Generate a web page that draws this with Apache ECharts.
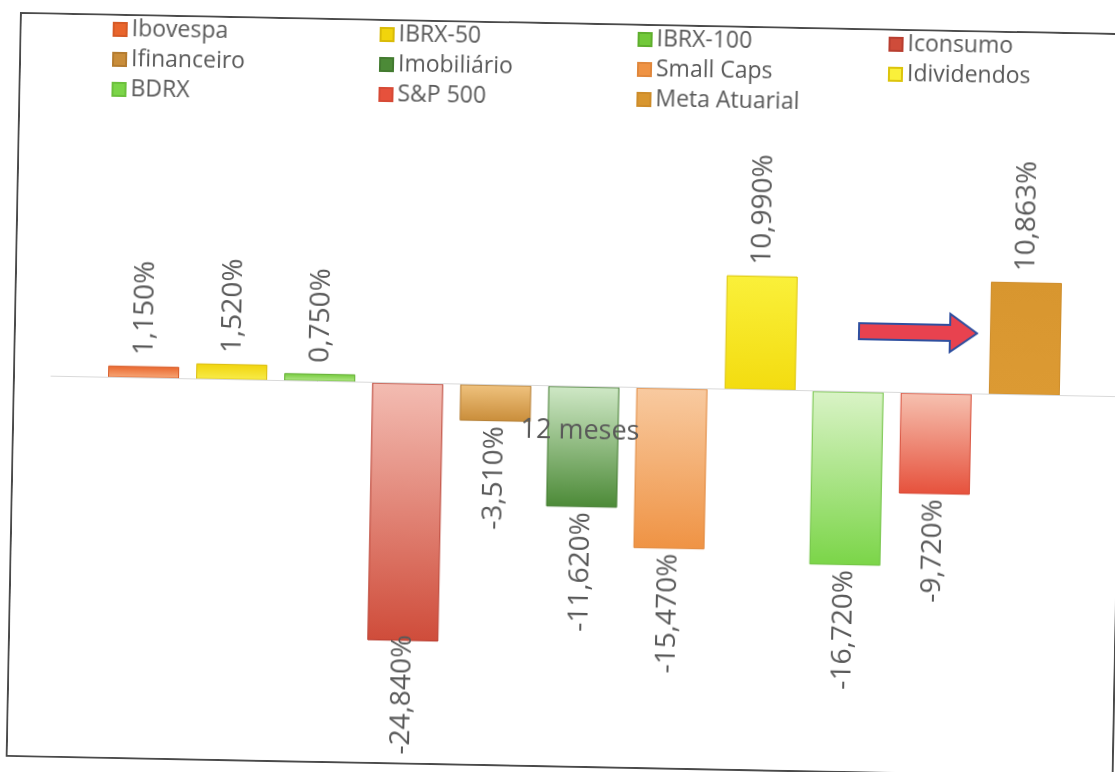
<!DOCTYPE html>
<html>
<head>
<meta charset="utf-8">
<script src="https://cdn.jsdelivr.net/npm/echarts@6/dist/echarts.min.js"></script>
<style>
  html, body { margin: 0; padding: 0; background: #ffffff; width: 1115px; height: 772px; overflow: hidden; }
  #frame {
    position: absolute; left: 20px; top: 12px;
    width: 1108px; height: 745px; box-sizing: border-box;
    border: 2px solid #4a4a4a;
    transform-origin: 0 0; transform: rotate(1.1deg);
    background: #ffffff;
  }
  #chart { width: 1104px; height: 741px; }
</style>
</head>
<body>
<div id="frame"><div id="chart"></div></div>
<script>
// 12-month returns per index (%)
const categories = ['12 meses'];
const seriesNames = ['Ibovespa', 'IBRX-50', 'IBRX-100', 'Iconsumo', 'Ifinanceiro', 'Imobiliário',
                     'Small Caps', 'Idividendos', 'BDRX', 'S&P 500', 'Meta Atuarial'];
const seriesValues = [1.150, 1.520, 0.750, -24.840, -3.510, -11.620, -15.470, 10.990, -16.720, -9.720, 10.863];

// legend columns (row-major order of the legend grid)
const legendColumns = [
  ['Ibovespa', 'Ifinanceiro', 'BDRX'],
  ['IBRX-50', 'Imobiliário', 'S&P 500'],
  ['IBRX-100', 'Small Caps', 'Meta Atuarial'],
  ['Iconsumo', 'Idividendos']
];

// fill colours: [near the axis, far end of bar, border]
const fills = {
  'Ibovespa':     ['#f7a979', '#e9652c', '#d65a26'],
  'IBRX-50':      ['#f8ec4a', '#f1d40c', '#d9bb08'],
  'IBRX-100':     ['#b6e98c', '#72c93a', '#5fae2e'],
  'Iconsumo':     ['#f3bcb2', '#cf4c3a', '#b83e30'],
  'Ifinanceiro':  ['#efc27e', '#c98d3a', '#b47c30'],
  'Imobiliário':  ['#cfe8c6', '#4c8a37', '#437b30'],
  'Small Caps':   ['#f8caa0', '#ef9344', '#e0873c'],
  'Idividendos':  ['#f3dc10', '#faf03a', '#dcc40c'],
  'BDRX':         ['#d9f3c6', '#7bd548', '#6cc03d'],
  'S&P 500':      ['#f6c1b0', '#e6513c', '#d64a36'],
  'Meta Atuarial':['#dc9a33', '#d8962f', '#cd8c2a']
};

// the longest label is pulled back onto its bar so it stays inside the frame
const labelNudge = { 'Iconsumo': -6 };

const fmt = v => v.toFixed(3).replace('.', ',') + '%';

const series = seriesNames.map((name, i) => {
  const v = seriesValues[i];
  const c = fills[name];
  // gradient runs from the zero line outward
  const grad = v >= 0
    ? new echarts.graphic.LinearGradient(0, 1, 0, 0, [{offset: 0, color: c[0]}, {offset: 1, color: c[1]}])
    : new echarts.graphic.LinearGradient(0, 0, 0, 1, [{offset: 0, color: c[0]}, {offset: 1, color: c[1]}]);
  const dist = name in labelNudge ? labelNudge[name] : (v >= 0 ? 11 : 5);
  return {
    name: name,
    type: 'bar',
    barGap: '24%',
    barCategoryGap: '10.7%',
    data: [v],
    itemStyle: { color: grad, borderColor: c[2], borderWidth: 1 },
    label: {
      show: true,
      rotate: 90,
      position: v >= 0 ? 'top' : 'bottom',
      distance: dist,
      align: v >= 0 ? 'left' : 'right',
      verticalAlign: 'middle',
      formatter: p => fmt(p.value),
      fontFamily: 'Open Sans',
      fontSize: 28,
      color: '#595959'
    },
    z: 2
  };
});

const legendX = [86, 353, 611, 862];
const legends = legendColumns.map((col, k) => ({
  data: col.map(n => ({ name: n, itemStyle: { color: fills[n][1] } })),
  orient: 'vertical',
  left: legendX[k],
  top: -3,
  itemWidth: 13,
  itemHeight: 13,
  itemGap: 7,
  icon: 'rect',
  textStyle: { fontFamily: 'Open Sans', fontSize: 23, color: '#595959', lineHeight: 23 }
}));

const chart = echarts.init(document.getElementById('chart'), null, { renderer: 'canvas' });
chart.setOption({
  animation: false,
  backgroundColor: '#ffffff',
  legend: legends,
  grid: { left: 36, width: 1066, top: 206, height: 467, containLabel: false },
  xAxis: {
    type: 'category',
    data: categories,
    axisLine: { onZero: true, lineStyle: { color: '#d9d9d9', width: 1 } },
    axisTick: { show: false },
    axisLabel: { show: false },
    z: 10
  },
  yAxis: {
    type: 'value',
    min: -30,
    max: 15,
    interval: 5,
    show: false,
    splitLine: { show: false }
  },
  series: series,
  graphic: [{
    id: 'arrow',
    type: 'polygon',
    shape: { points: [[843, 293], [934, 293], [934, 282], [961, 301], [934, 320], [934, 309], [843, 309]] },
    style: { fill: '#e8424f', stroke: '#2f4f9f', lineWidth: 2 },
    z: 20
  }]
});

// category name sits just under the zero line, over the bars
const zeroPt = chart.convertToPixel({ xAxisIndex: 0, yAxisIndex: 0 }, [categories[0], 0]);
chart.setOption({
  graphic: [{
    id: 'catLabel',
    type: 'text',
    x: zeroPt[0] - 3,
    y: zeroPt[1] + 45,
    style: {
      text: categories[0],
      fontFamily: 'Open Sans',
      fontSize: 27,
      fill: '#595959',
      align: 'center',
      verticalAlign: 'middle'
    },
    z: 30
  }]
});
</script>
</body>
</html>
